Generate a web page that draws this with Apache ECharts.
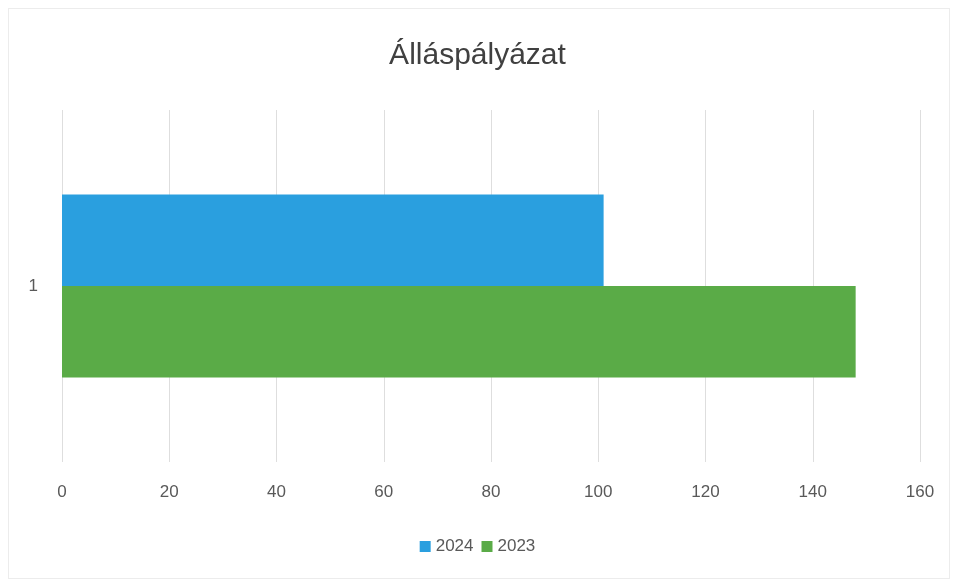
<!DOCTYPE html>
<html>
<head>
<meta charset="utf-8">
<script src="https://cdn.jsdelivr.net/npm/echarts@6/dist/echarts.min.js"></script>
<style>
  html, body { margin: 0; padding: 0; background: #fff; }
  #chart { width: 955px; height: 582px; }
  #frame { position: absolute; left: 8px; top: 8px; width: 940px; height: 569px; border: 1px solid #ececec; pointer-events: none; }
</style>
</head>
<body>
<div id="chart"></div>
<div id="frame"></div>
<script>
// adatok
var categories = ['1'];
var seriesNames = ['2024', '2023'];
var values2024 = [101];
var values2023 = [148];
var colors = ['#2a9fdf', '#5aab47'];

var chart = echarts.init(document.getElementById('chart'));
var font = 'Liberation Sans, Arial, sans-serif';

var option = {
  animation: false,
  color: colors,
  title: {
    text: 'Álláspályázat',
    left: 'center',
    top: 36,
    textStyle: { fontSize: 30, fontWeight: 'normal', color: '#404040', fontFamily: font }
  },
  legend: {
    data: seriesNames,
    bottom: 22,
    left: 'center',
    icon: 'rect',
    itemWidth: 11,
    itemHeight: 11,
    itemGap: 8,
    textStyle: { fontSize: 17, color: '#595959', fontFamily: font }
  },
  grid: { left: 62, right: 35, top: 110, bottom: 120, containLabel: false },
  xAxis: {
    type: 'value',
    min: 0,
    max: 160,
    interval: 20,
    axisLine: { show: false },
    axisTick: { show: false },
    axisLabel: { fontSize: 17, color: '#595959', margin: 22, fontFamily: font },
    splitLine: { lineStyle: { color: '#dedede', width: 1 } }
  },
  yAxis: {
    type: 'category',
    inverse: true,
    data: categories,
    axisLine: { show: false },
    axisTick: { show: false },
    axisLabel: { fontSize: 17, color: '#595959', margin: 24, fontFamily: font }
  },
  series: [
    { name: seriesNames[0], type: 'bar', data: values2024, barGap: '0%', barCategoryGap: '48%' },
    { name: seriesNames[1], type: 'bar', data: values2023, barGap: '0%', barCategoryGap: '48%' }
  ]
};
chart.setOption(option);
</script>
</body>
</html>
